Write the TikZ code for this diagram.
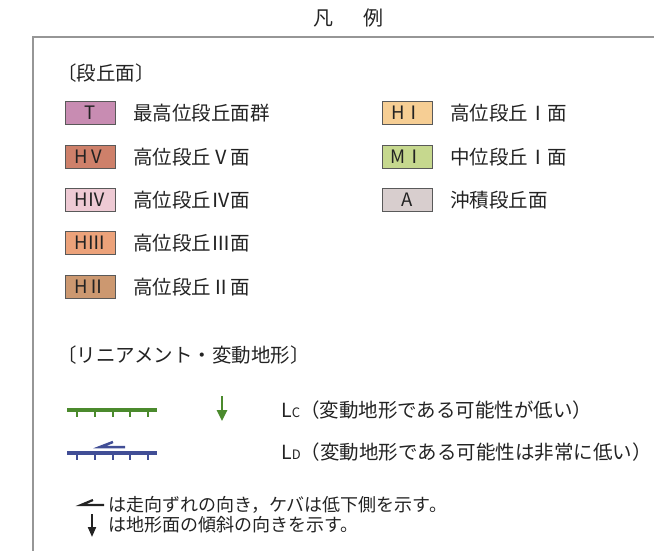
\documentclass[tikz,border=0pt]{standalone}
\usepackage{fontspec}
\setmainfont{Noto Sans CJK JP}
\usetikzlibrary{arrows.meta}
\definecolor{cT}{RGB}{200,140,178}
\definecolor{cHV}{RGB}{206,128,106}
\definecolor{cHIV}{RGB}{238,202,212}
\definecolor{cHIII}{RGB}{236,162,122}
\definecolor{cHII}{RGB}{204,152,112}
\definecolor{cHI}{RGB}{246,206,148}
\definecolor{cMI}{RGB}{198,216,142}
\definecolor{cA}{RGB}{216,206,206}
\definecolor{lgreen}{RGB}{75,138,45}
\definecolor{lblue}{RGB}{65,78,150}
\definecolor{frame}{RGB}{150,150,150}
\definecolor{txt}{RGB}{35,35,35}
\newcommand{\fw}[1]{\makebox[1em]{#1}}
\begin{document}
\begin{tikzpicture}[x=1pt,y=-1pt,
  swatch/.style={draw=black!65, line width=0.9pt, minimum width=50pt, minimum height=23pt, inner sep=0pt, text=txt, font=\fontsize{18.5}{18.5}\selectfont},
  lbl/.style={anchor=west, inner sep=0pt, text=txt, font=\fontsize{19.5}{21}\selectfont},
  note/.style={anchor=west, inner sep=0pt, text=txt, font=\fontsize{18}{19}\selectfont},
  greenline/.style={draw=lgreen, line width=3.2pt},
  greentick/.style={draw=lgreen, line width=2.2pt},
  blueline/.style={draw=lblue, line width=3.2pt},
  bluetick/.style={draw=lblue, line width=2.2pt}]
\useasboundingbox (0,0) rectangle (654,551);
% title
\node[inner sep=0pt, text=txt, font=\fontsize{20}{22}\selectfont] (title) at (348,18) {凡\hspace{30pt}例};
% frame
\coordinate (fr1) at (654,37);
\coordinate (fr2) at (33,37);
\coordinate (fr3) at (33,551);
\draw[frame, line width=1.6pt] (fr1) -- (fr2) -- (fr3);
% section heading
\node[lbl] (h1) at (57,73) {〔段丘面〕};
% left column
\node[swatch, fill=cT] (sT) at (90.5,113) {T};
\node[lbl] (lT) at (133,113) {最高位段丘面群};
\node[swatch, fill=cHV] (sHV) at (90.5,157) {H\fw{Ⅴ}};
\node[lbl] (lHV) at (133,157) {高位段丘\fw{Ⅴ}面};
\node[swatch, fill=cHIV] (sHIV) at (90.5,200) {H\fw{Ⅳ}};
\node[lbl] (lHIV) at (133,200) {高位段丘\fw{Ⅳ}面};
\node[swatch, fill=cHIII] (sHIII) at (90.5,243) {H\fw{Ⅲ}};
\node[lbl] (lHIII) at (133,243) {高位段丘\fw{Ⅲ}面};
\node[swatch, fill=cHII] (sHII) at (90.5,287) {H\fw{Ⅱ}};
\node[lbl] (lHII) at (133,287) {高位段丘\fw{Ⅱ}面};
% right column
\node[swatch, fill=cHI] (sHI) at (407,113) {H\fw{Ⅰ}};
\node[lbl] (lHI) at (450,113) {高位段丘\fw{Ⅰ}面};
\node[swatch, fill=cMI] (sMI) at (407,157) {M\fw{Ⅰ}};
\node[lbl] (lMI) at (450,157) {中位段丘\fw{Ⅰ}面};
\node[swatch, fill=cA] (sA) at (407,200) {A};
\node[lbl] (lA) at (450,200) {沖積段丘面};
% lineament heading
\node[lbl] (h2) at (57,355) {〔リニアメント・変動地形〕};
% green line
\coordinate (g1) at (67,410);
\coordinate (g2) at (157,410);
\draw[greenline] (g1) -- (g2);
\foreach \x in {77,95,113,130,148} \draw[greentick] (\x,410) -- (\x,417);
\coordinate (ga1) at (222,396);
\coordinate (ga2) at (222,421);
\draw[draw=lgreen, line width=2.5pt, -{Triangle[width=10pt,length=11pt]}] (ga1) -- (ga2);
\node[lbl] (lc) at (281,410) {L{\fontsize{13}{13}\selectfont C}（変動地形である可能性が低い）};
% blue line
\coordinate (b1) at (67,453);
\coordinate (b2) at (157,453);
\draw[blueline] (b1) -- (b2);
\foreach \x in {77,95,113,130,148} \draw[bluetick] (\x,453) -- (\x,460);
\coordinate (bh1) at (125,447);
\coordinate (bh2) at (100,447);
\coordinate (bh3) at (113,442);
\draw[draw=lblue, line width=2.5pt] (bh1) -- (bh2) -- (bh3);
\node[lbl] (ld) at (281,452) {L{\fontsize{13}{13}\selectfont D}（変動地形である可能性は非常に低い）};
% notes
\coordinate (nh1) at (104,505);
\coordinate (nh2) at (81,505);
\coordinate (nh3) at (93,500);
\draw[draw=txt, line width=2.2pt] (nh1) -- (nh2) -- (nh3);
\node[note] (n1) at (108,505) {は走向ずれの向き，ケバは低下側を示す。};
\coordinate (na1) at (92,514);
\coordinate (na2) at (92,537);
\draw[draw=txt, line width=2pt, -{Triangle[width=8pt,length=10pt]}] (na1) -- (na2);
\node[note] (n2) at (108,525) {は地形面の傾斜の向きを示す。};
\end{tikzpicture}
\end{document}
